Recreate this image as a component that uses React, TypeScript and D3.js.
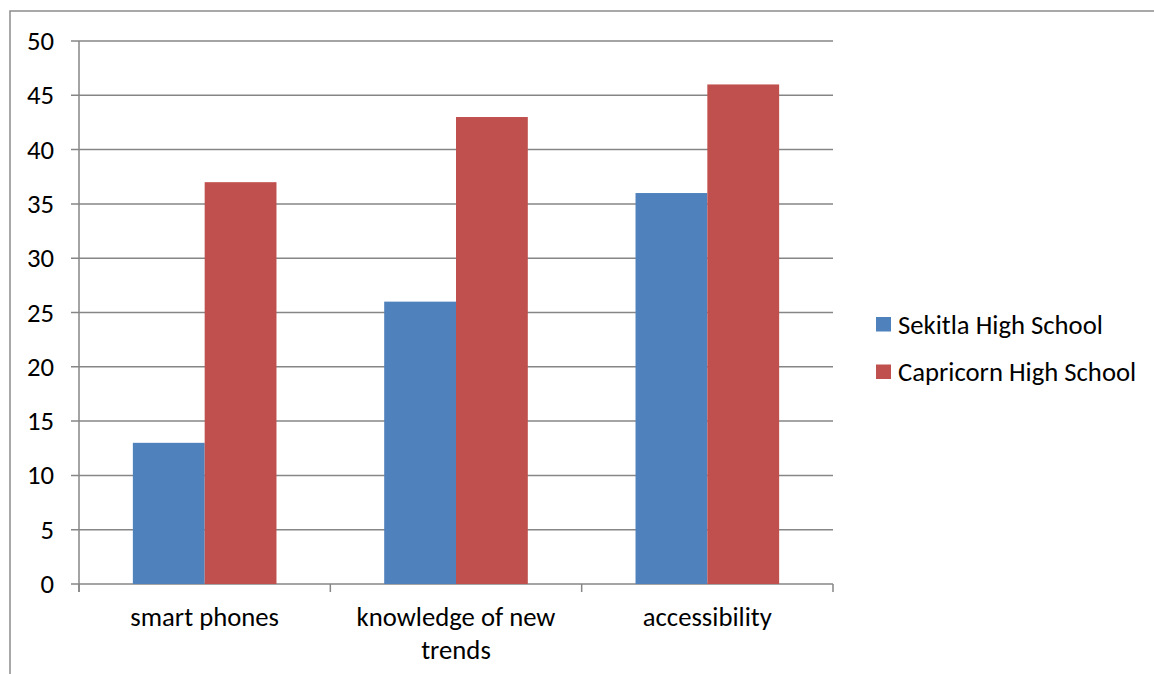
import React from "react";
import * as d3 from "d3";

const categories: string[][] = [["smart phones"], ["knowledge of new", "trends"], ["accessibility"]];
const seriesNames = ["Sekitla High School", "Capricorn High School"];
const sekitla = [13, 26, 36];
const capricorn = [37, 43, 46];
const colors = ["#4F81BD", "#C0504D"];
const yTicks = [0, 5, 10, 15, 20, 25, 30, 35, 40, 45, 50];

const W = 1154;
const H = 674;
const plot = { left: 79, right: 833, top: 41, bottom: 584 };
const font = "Carlito, 'Open Sans', 'Liberation Sans', sans-serif";
const fs = 26.7;

export default function App() {
  const y = d3.scaleLinear().domain([0, 50]).range([plot.bottom, plot.top]);
  const x0 = d3
    .scaleBand<number>()
    .domain(categories.map((_, i) => i))
    .range([plot.left, plot.right])
    .paddingInner(0)
    .paddingOuter(0);
  const groupW = x0.bandwidth();
  // gap width of 150% between clusters
  const barW = groupW / 3.5;
  const series = [sekitla, capricorn];
  const grid = "#868686";

  return (
    <svg
      width={W}
      height={H}
      style={{ position: "absolute", left: 0, top: 0, background: "#fff" }}
    >
      {/* outer chart border */}
      <rect x={10} y={11} width={W + 10} height={H + 10} fill="none" stroke="#8c8c8c" strokeWidth={1.5} />

      {/* horizontal gridlines */}
      {yTicks.map((t) => (
        <line key={t} x1={plot.left - 8} x2={plot.right} y1={y(t)} y2={y(t)} stroke={grid} strokeWidth={1.5} />
      ))}
      {/* y axis */}
      <line x1={plot.left} x2={plot.left} y1={plot.top} y2={plot.bottom + 8} stroke={grid} strokeWidth={1.5} />
      {/* category ticks */}
      {d3.range(categories.length + 1).map((i) => {
        const xx = plot.left + i * groupW;
        return <line key={i} x1={xx} x2={xx} y1={plot.bottom} y2={plot.bottom + 8} stroke={grid} strokeWidth={1.5} />;
      })}

      {/* bars */}
      {categories.map((_, ci) =>
        series.map((vals, si) => {
          const bx = (x0(ci) as number) + barW * 0.75 + si * barW;
          return (
            <rect
              key={`${ci}-${si}`}
              x={bx}
              y={y(vals[ci])}
              width={barW}
              height={plot.bottom - y(vals[ci])}
              fill={colors[si]}
            />
          );
        })
      )}

      {/* y tick labels */}
      {yTicks.map((t) => (
        <text
          key={t}
          x={54}
          y={y(t)}
          textAnchor="end"
          dominantBaseline="central"
          fontFamily={font}
          fontSize={fs}
          fill="#000"
        >
          {t}
        </text>
      ))}

      {/* category labels */}
      {categories.map((lines, ci) => (
        <text
          key={ci}
          x={(x0(ci) as number) + groupW / 2}
          textAnchor="middle"
          fontFamily={font}
          fontSize={fs}
          fill="#000"
        >
          {lines.map((ln, li) => (
            <tspan key={li} x={(x0(ci) as number) + groupW / 2} y={626 + li * 33}>
              {ln}
            </tspan>
          ))}
        </text>
      ))}

      {/* legend */}
      {seriesNames.map((name, i) => (
        <g key={name} transform={`translate(876, ${317 + i * 47.5})`}>
          <rect x={0} y={0} width={15} height={14.5} fill={colors[i]} />
          <text x={22} y={7.5} dominantBaseline="central" fontFamily={font} fontSize={fs} fill="#000">
            {name}
          </text>
        </g>
      ))}
    </svg>
  );
}
